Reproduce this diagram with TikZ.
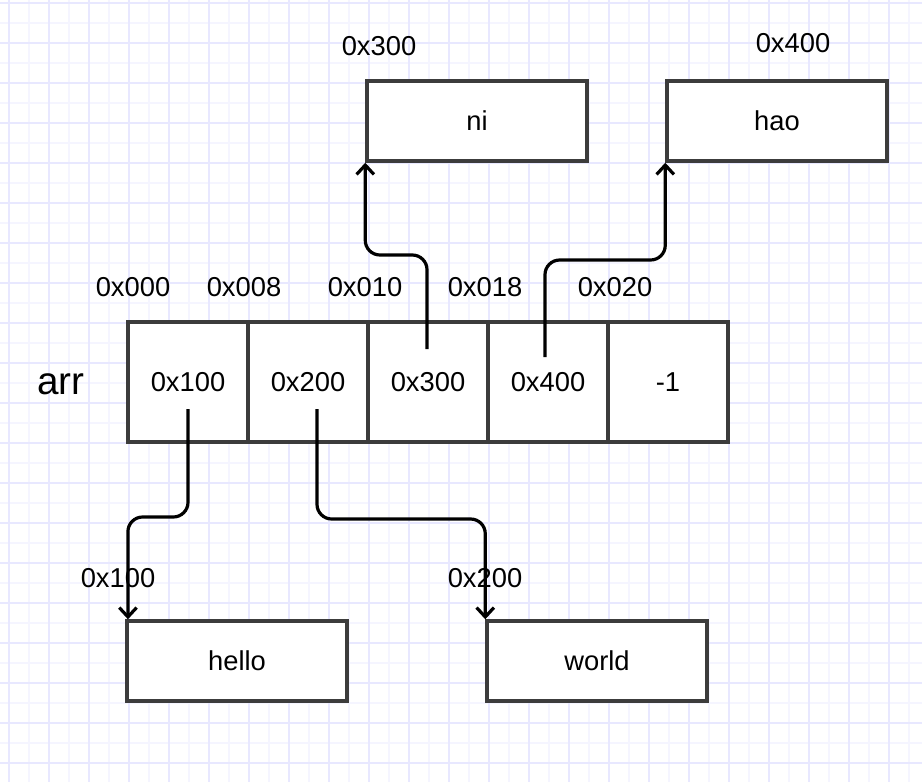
\documentclass[tikz,border=0pt]{standalone}
\usepackage{fontspec}
\setmainfont{Liberation Sans}
\usetikzlibrary{arrows.meta}
\definecolor{gridmajor}{RGB}{232,232,255}
\definecolor{gridminor}{RGB}{245,245,255}
\definecolor{boxline}{RGB}{60,60,60}
\begin{document}
\begin{tikzpicture}[x=0.75pt,y=-0.75pt,
        every node/.style={font=\fontsize{20.5}{24}\selectfont},
        cell/.style={draw=boxline,fill=white,line width=2.6pt,minimum width=90pt,minimum height=90pt,inner sep=0pt},
        membox/.style={draw=boxline,fill=white,line width=2.6pt,minimum width=165pt,minimum height=60pt,inner sep=0pt},
        ptr/.style={line width=2.4pt,rounded corners=11pt,-{Straight Barb[length=7pt,width=13pt]}}]
        \useasboundingbox (0,0) rectangle (922,782);

        % background grid
        \foreach \x in {29,69,...,909} \draw[gridminor,line width=1.5pt] (\x,0) -- (\x,782);
        \foreach \y in {23,63,...,783} \draw[gridminor,line width=1.5pt] (0,\y) -- (922,\y);
        \foreach \x in {9,49,...,889} \draw[gridmajor,line width=1.5pt] (\x,0) -- (\x,782);
        \foreach \y in {3,43,...,763} \draw[gridmajor,line width=1.5pt] (0,\y) -- (922,\y);

        \node[font=\fontsize{29}{34}\selectfont] (arrLabel) at (61,384) {arr};

        \node[cell] (cell0) at (188,382) {0x100};
        \node[cell] (cell1) at (308,382) {0x200};
        \node[cell] (cell2) at (428,382) {0x300};
        \node[cell] (cell3) at (548,382) {0x400};
        \node[cell] (cell4) at (668,382) {-1};

        \node (addr000) at (133,287) {0x000};
        \node (addr008) at (244,287) {0x008};
        \node (addr010) at (365,287) {0x010};
        \node (addr018) at (485,287) {0x018};
        \node (addr020) at (615,287) {0x020};

        \node[membox] (ni) at (477,121) {ni};
        \node[membox] (hao) at (777,121) {hao};
        \node[membox] (hello) at (237,661) {hello};
        \node[membox] (world) at (597,661) {world};

        \node (addr300) at (379,46) {0x300};
        \node (addr400) at (793,43) {0x400};
        \node (addr100) at (118,578) {0x100};
        \node (addr200) at (485,578) {0x200};

        \coordinate (from100) at (188,409);
        \coordinate (from200) at (317,409);
        \coordinate (from300) at (427,349);
        \coordinate (from400) at (545,357);

        \draw[ptr] (from100) -- ++(0,108) -| ([xshift=2pt]hello.north west);
        \draw[ptr] (from200) -- ++(0,110) -| (world.north west);
        \draw[ptr] (from300) -- ++(0,-94) -| (ni.south west);
        \draw[ptr] (from400) -- ++(0,-97) -| (hao.south west);
    \end{tikzpicture}
\end{document}
